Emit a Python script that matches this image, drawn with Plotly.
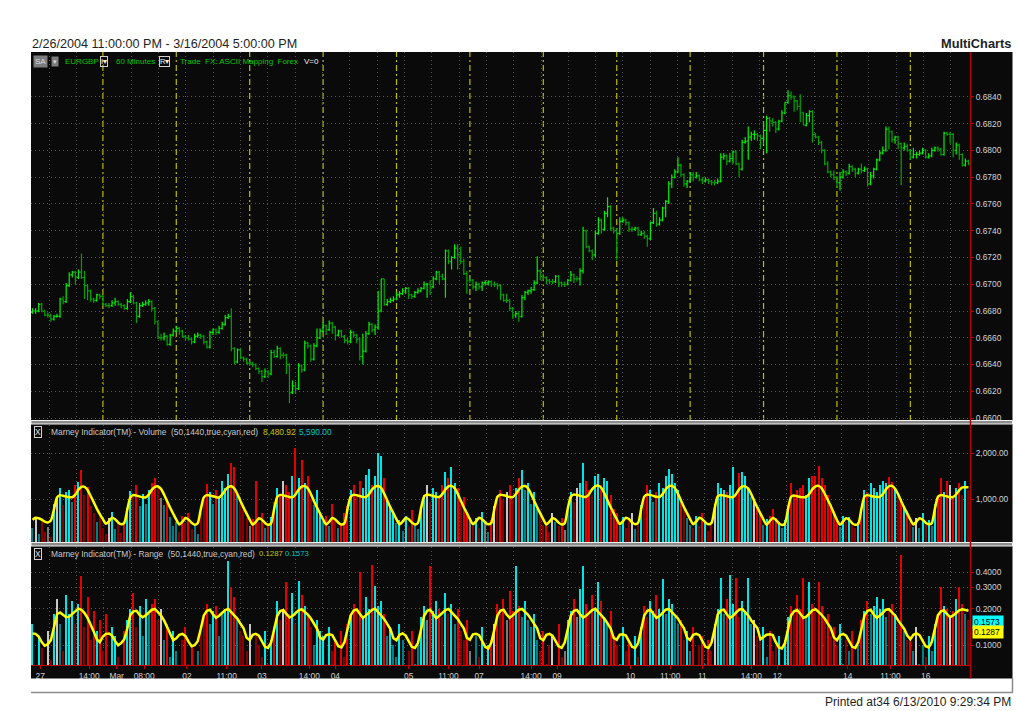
import plotly.graph_objects as go

# ---------------------------------------------------------------- data
BASE_PRICE = 0.6600          # price = BASE_PRICE + pips * PIP
PIP = 0.0001

OPEN_PIPS = [
    79, 80, 80, 85, 80, 77, 77, 74, 76, 76, 89, 87, 99, 107, 109, 105, 109, 105, 99, 95,
    89, 88, 92, 91, 85, 84, 84, 86, 87, 85, 84, 82, 87, 91, 86, 76, 84, 85, 86, 87,
    82, 72, 60, 60, 61, 55, 62, 65, 67, 65, 61, 60, 59, 57, 61, 62, 61, 57, 53, 64,
    66, 64, 67, 70, 75, 76, 52, 42, 51, 45, 44, 41, 41, 40, 37, 35, 31, 35, 33, 49,
    46, 52, 47, 47, 40, 19, 24, 22, 39, 36, 56, 54, 44, 54, 60, 65, 69, 66, 71, 68,
    62, 65, 61, 58, 57, 64, 62, 59, 46, 50, 63, 70, 66, 68, 80, 104, 85, 87, 88, 89,
    92, 93, 95, 97, 92, 91, 94, 95, 97, 100, 100, 98, 104, 109, 106, 104, 125, 117, 120, 127,
    122, 117, 108, 103, 103, 98, 100, 98, 101, 101, 102, 100, 100, 99, 92, 88, 88, 82, 77, 78,
    76, 90, 94, 95, 96, 101, 110, 106, 105, 103, 102, 102, 106, 101, 100, 100, 103, 107, 104, 104,
    110, 140, 128, 125, 122, 138, 148, 141, 153, 158, 142, 140, 138, 147, 148, 146, 141, 141, 142, 137,
    138, 136, 134, 146, 153, 145, 148, 157, 162, 175, 180, 184, 189, 182, 175, 177, 182, 180, 181, 178,
    177, 178, 177, 176, 176, 177, 195, 196, 192, 194, 199, 190, 186, 206, 207, 210, 212, 212, 211, 209,
    215, 224, 222, 221, 216, 222, 228, 236, 241, 240, 237, 233, 228, 219, 226, 229, 212, 210, 206, 200,
    190, 184, 182, 180, 176, 180, 184, 183, 188, 186, 183, 186, 185, 186, 175, 181, 186, 193, 198, 200,
    216, 214, 208, 210, 205, 202, 203, 200, 195, 197, 197, 198, 200, 195, 196, 200, 202, 201, 197, 213,
    212, 212, 200, 204, 197, 189, 192,
]
HIGH_PIPS = [
    82, 82, 86, 86, 81, 79, 78, 77, 78, 90, 91, 101, 109, 110, 110, 111, 123, 110, 100, 96,
    90, 93, 93, 92, 86, 86, 88, 90, 88, 86, 85, 89, 94, 92, 87, 86, 87, 88, 89, 88,
    83, 73, 63, 64, 62, 63, 67, 69, 68, 66, 62, 62, 60, 63, 64, 63, 62, 58, 65, 67,
    67, 69, 72, 77, 78, 82, 53, 52, 52, 46, 45, 43, 42, 41, 38, 36, 37, 36, 51, 51,
    54, 53, 49, 48, 41, 28, 27, 41, 40, 58, 57, 55, 56, 67, 67, 72, 70, 73, 72, 69,
    66, 66, 62, 60, 66, 65, 63, 60, 63, 65, 72, 71, 70, 95, 104, 104, 89, 90, 91, 94,
    95, 97, 98, 98, 93, 95, 97, 98, 102, 101, 103, 106, 110, 110, 108, 126, 126, 121, 130, 130,
    128, 119, 110, 105, 104, 102, 101, 102, 103, 103, 103, 102, 101, 100, 93, 93, 89, 83, 80, 80,
    92, 95, 96, 98, 103, 121, 111, 108, 106, 104, 104, 107, 107, 102, 102, 104, 110, 108, 106, 112,
    143, 141, 129, 126, 140, 150, 149, 155, 165, 159, 143, 142, 150, 150, 149, 147, 143, 143, 143, 140,
    140, 137, 147, 157, 155, 150, 158, 163, 177, 182, 186, 195, 190, 183, 178, 184, 184, 184, 182, 180,
    180, 179, 178, 178, 179, 198, 198, 197, 198, 200, 200, 191, 208, 210, 218, 214, 215, 213, 212, 222,
    226, 225, 224, 222, 223, 230, 236, 245, 244, 241, 238, 242, 229, 228, 230, 230, 213, 211, 207, 201,
    192, 185, 185, 181, 184, 186, 185, 190, 189, 187, 187, 190, 188, 187, 184, 187, 194, 200, 203, 218,
    218, 215, 211, 211, 206, 206, 205, 201, 202, 199, 200, 202, 201, 198, 202, 203, 203, 202, 214, 214,
    214, 213, 206, 205, 198, 194, 193,
]
LOW_PIPS = [
    78, 78, 79, 79, 76, 75, 72, 73, 75, 75, 85, 86, 98, 105, 100, 104, 104, 89, 88, 87,
    86, 87, 89, 84, 83, 82, 83, 84, 84, 82, 81, 81, 86, 85, 71, 75, 83, 84, 84, 80,
    70, 59, 58, 58, 54, 54, 61, 64, 62, 60, 58, 58, 55, 56, 60, 59, 55, 52, 52, 62,
    62, 63, 66, 69, 74, 50, 40, 41, 44, 42, 40, 39, 38, 36, 33, 27, 30, 30, 32, 45,
    45, 44, 45, 33, 11, 18, 18, 21, 34, 35, 52, 42, 43, 53, 59, 64, 62, 65, 63, 58,
    61, 60, 56, 55, 56, 60, 56, 43, 40, 49, 62, 64, 62, 66, 79, 84, 84, 86, 87, 88,
    90, 92, 93, 89, 89, 90, 93, 94, 96, 90, 92, 97, 103, 100, 103, 90, 115, 111, 119, 111,
    115, 107, 93, 101, 96, 95, 96, 95, 99, 99, 98, 98, 96, 88, 87, 86, 80, 74, 75, 72,
    75, 88, 92, 93, 95, 100, 103, 103, 100, 100, 100, 101, 98, 98, 98, 99, 102, 101, 102, 99,
    108, 127, 124, 118, 120, 137, 138, 140, 150, 140, 138, 118, 137, 146, 144, 139, 139, 140, 136, 136,
    134, 128, 133, 145, 143, 144, 147, 150, 160, 172, 179, 183, 180, 173, 172, 176, 177, 179, 177, 175,
    176, 175, 174, 174, 175, 176, 193, 189, 191, 190, 189, 180, 185, 205, 193, 207, 208, 207, 201, 205,
    198, 214, 218, 213, 215, 221, 227, 235, 238, 229, 230, 221, 219, 218, 221, 206, 209, 204, 198, 189,
    183, 180, 178, 172, 170, 179, 181, 182, 184, 180, 182, 183, 184, 173, 174, 179, 185, 192, 197, 199,
    201, 206, 205, 201, 174, 200, 199, 193, 194, 194, 196, 197, 194, 194, 195, 199, 199, 196, 196, 211,
    205, 195, 197, 193, 188, 188, 189,
]
CLOSE_PIPS = [
    80, 80, 85, 80, 77, 77, 74, 76, 76, 89, 87, 99, 107, 109, 105, 109, 105, 99, 95, 89,
    88, 92, 91, 85, 84, 84, 86, 87, 85, 84, 82, 87, 91, 86, 76, 84, 85, 86, 87, 82,
    72, 60, 60, 61, 55, 62, 65, 67, 65, 61, 60, 59, 57, 61, 62, 61, 57, 53, 64, 66,
    64, 67, 70, 75, 76, 52, 42, 51, 45, 44, 41, 41, 40, 37, 35, 31, 35, 33, 49, 46,
    52, 47, 47, 40, 19, 24, 22, 39, 36, 56, 54, 44, 54, 60, 65, 69, 66, 71, 68, 62,
    65, 61, 58, 57, 64, 62, 59, 46, 50, 63, 70, 66, 68, 80, 104, 85, 87, 88, 89, 92,
    93, 95, 97, 92, 91, 94, 95, 97, 100, 100, 98, 104, 109, 106, 104, 125, 117, 120, 127, 122,
    117, 108, 103, 103, 98, 100, 98, 101, 101, 102, 100, 100, 99, 92, 88, 88, 82, 77, 78, 76,
    90, 94, 95, 96, 101, 110, 106, 105, 103, 102, 102, 106, 101, 100, 100, 103, 107, 104, 104, 110,
    140, 128, 125, 122, 138, 148, 141, 153, 158, 142, 140, 138, 147, 148, 146, 141, 141, 142, 137, 138,
    136, 134, 146, 153, 145, 148, 157, 162, 175, 180, 184, 189, 182, 175, 177, 182, 180, 181, 178, 177,
    178, 177, 176, 176, 177, 195, 196, 192, 194, 199, 190, 186, 206, 207, 210, 212, 212, 211, 209, 215,
    224, 222, 221, 216, 222, 228, 236, 241, 240, 237, 233, 228, 219, 226, 229, 212, 210, 206, 200, 190,
    184, 182, 180, 176, 180, 184, 183, 188, 186, 183, 186, 185, 186, 175, 181, 186, 193, 198, 200, 216,
    214, 208, 210, 205, 202, 203, 200, 195, 197, 197, 198, 200, 195, 196, 200, 202, 201, 197, 213, 212,
    212, 200, 204, 197, 189, 192, 190,
]

VOLUME = [
    380, 620, 250, 540, 300, 410, 180,
    900, 1050, 1250, 880, 1150, 1200, 950, 1300, 1380, 1630, 1100, 1260, 850, 700, 520, 640, 380, 260, 600, 720, 350, 480, 270, 540,
    820, 1180, 1050, 1300, 850, 1120, 900, 1200, 1350, 1460, 1250, 1020, 880, 960, 610, 420, 520, 300, 650, 480, 700, 350, 420, 260,
    700, 980, 1320, 1150, 900, 1200, 1050, 1400, 1250, 1550, 1780, 1700, 1100, 900, 760, 600, 420, 580, 1390, 520, 700, 380, 450, 620,
    950, 1250, 1100, 1400, 1300, 1150, 1500, 2100, 1450, 1850, 1350, 1500, 1000, 880, 1200, 720, 500, 650, 420, 900, 560, 380, 460, 700,
    850, 1200, 1300, 1050, 1400, 1250, 1530, 1650, 1300, 1500, 2000, 1930, 1450, 1000, 850, 700, 480, 560, 320, 650, 400, 760, 450, 350,
    800, 1100, 1300, 950, 1250, 1150, 1050, 1300, 1600, 1450, 1700, 1350, 1250, 900, 1050, 700, 540, 420, 600, 380, 720, 480, 300, 550,
    850, 1050, 1200, 980, 1150, 1300, 1000, 1250, 1450, 1630, 1200, 1350, 900, 1150, 800, 650, 450, 520, 300, 700, 520, 420, 600, 330,
    750, 1150, 950, 1250, 1350, 1780, 1400, 1200, 1100, 1500, 1550, 1300, 1450, 1400, 1100, 800, 700, 420, 620, 380, 560, 700, 350, 480,
    880, 1000, 1300, 1200, 950, 1150, 1350, 1250, 1500, 1650, 1550, 1350, 1200, 1000, 800, 600, 450, 380, 650, 420, 700, 500, 320, 450,
    900, 1350, 1250, 1200, 1150, 1300, 1700, 1100, 1560, 1600, 1500, 1250, 1050, 1000, 850, 700, 450, 580, 650, 800, 600, 520, 380, 550,
    850, 1350, 1100, 1200, 1250, 1300, 1100, 1450, 1500, 1500, 1720, 1450, 1300, 1100, 900, 750, 550, 400, 650, 500, 620, 450, 380, 520,
    800, 1200, 1150, 1350, 1250, 1150, 1300, 1400, 1350, 1480, 1380, 1250, 1100, 1000, 850, 750, 500, 400, 600, 380, 700, 450, 550, 420,
    900, 1100, 1450, 1150, 1400, 1300, 1050, 1250, 1350, 1100, 1400, 1200,
]
VOLUME_AVG = [
    560, 600, 590, 560, 520, 500, 540,
    780, 1040, 1090, 1075, 1060, 1045, 1045, 1100, 1205, 1270, 1270, 1200, 1070, 940, 800, 680, 570, 470, 525, 600, 570, 500, 460, 490,
    785, 1045, 1092, 1080, 1062, 1044, 1042, 1102, 1203, 1268, 1278, 1225, 1105, 958, 818, 688, 562, 455, 512, 594, 563, 493, 452, 483,
    782, 1042, 1090, 1082, 1066, 1047, 1040, 1100, 1200, 1265, 1280, 1230, 1110, 960, 820, 690, 560, 450, 510, 590, 560, 490, 450, 480,
    790, 1050, 1095, 1085, 1068, 1050, 1045, 1105, 1208, 1272, 1284, 1236, 1115, 965, 824, 694, 565, 455, 515, 594, 565, 495, 455, 485,
    795, 1055, 1100, 1088, 1070, 1052, 1048, 1110, 1212, 1276, 1288, 1240, 1120, 970, 828, 698, 568, 458, 518, 598, 568, 498, 458, 488,
    798, 1058, 1102, 1090, 1072, 1053, 1050, 1112, 1215, 1280, 1290, 1242, 1122, 972, 830, 700, 570, 460, 520, 600, 570, 500, 460, 490,
    795, 1055, 1100, 1088, 1070, 1050, 1047, 1108, 1210, 1276, 1286, 1238, 1118, 968, 826, 696, 566, 456, 516, 596, 566, 496, 456, 486,
    800, 1060, 1105, 1092, 1075, 1055, 1052, 1115, 1220, 1285, 1295, 1245, 1125, 975, 832, 702, 572, 462, 522, 602, 572, 502, 462, 492,
    798, 1058, 1103, 1090, 1073, 1054, 1050, 1112, 1216, 1282, 1292, 1243, 1123, 973, 830, 700, 570, 460, 520, 600, 570, 500, 460, 490,
    800, 1060, 1095, 1080, 1068, 1050, 1045, 1110, 1215, 1272, 1280, 1232, 1110, 960, 820, 690, 560, 450, 525, 595, 560, 485, 445, 475,
    790, 1055, 1080, 1065, 1050, 1042, 1050, 1120, 1220, 1280, 1290, 1240, 1120, 990, 850, 700, 550, 448, 522, 592, 558, 480, 448, 472,
    795, 1060, 1090, 1075, 1060, 1050, 1052, 1115, 1215, 1282, 1290, 1230, 1110, 960, 820, 690, 560, 455, 520, 590, 560, 495, 462, 480,
    790, 1050, 1090, 1080, 1062, 1048, 1050, 1110, 1200, 1258, 1262, 1262,
]
RANGE_MILLI = [   # bar range, thousandths
    150, 60, 120, 95, 40, 130, 75,
    180, 240, 150, 90, 260, 180, 230, 150, 220, 370, 140, 250, 110, 190, 130, 160, 90, 180, 60, 140, 120, 80, 50, 130,
    160, 200, 270, 140, 210, 120, 240, 180, 220, 240, 160, 200, 110, 150, 80, 130, 90, 50, 110, 140, 70, 100, 60, 90,
    130, 170, 220, 150, 190, 210, 120, 180, 200, 490, 300, 250, 160, 130, 120, 90, 150, 60, 120, 100, 80, 130, 70, 110,
    140, 230, 160, 200, 330, 180, 270, 150, 340, 260, 210, 180, 140, 100, 160, 130, 120, 70, 140, 90, 110, 60, 130, 80,
    150, 180, 220, 190, 400, 170, 250, 200, 460, 310, 210, 230, 180, 120, 140, 100, 80, 150, 110, 60, 90, 130, 70, 100,
    170, 210, 160, 450, 190, 230, 200, 170, 270, 180, 220, 150, 200, 130, 110, 160, 90, 70, 120, 80, 140, 60, 100, 110,
    150, 220, 180, 240, 160, 280, 190, 450, 210, 170, 230, 160, 140, 180, 110, 90, 130, 70, 100, 120, 60, 150, 80, 90,
    160, 190, 240, 170, 290, 450, 220, 180, 260, 200, 330, 230, 170, 150, 190, 120, 100, 70, 140, 90, 110, 60, 120, 80,
    140, 210, 170, 230, 190, 260, 200, 350, 180, 240, 220, 170, 150, 160, 110, 130, 90, 140, 60, 100, 120, 70, 110, 90,
    150, 200, 360, 180, 240, 380, 220, 360, 170, 230, 190, 360, 150, 160, 120, 110, 140, 80, 130, 90, 100, 120, 60, 110,
    170, 210, 180, 260, 200, 360, 170, 330, 220, 190, 330, 210, 160, 180, 120, 140, 100, 150, 70, 110, 90, 130, 60, 100,
    160, 190, 230, 180, 210, 250, 200, 240, 170, 190, 220, 180, 150, 550, 130, 110, 120, 90, 140, 70, 100, 80, 120, 90,
    150, 180, 300, 210, 200, 170, 190, 240, 300, 220, 180, 160,
]
RANGE_AVG_MILLI = [
    125, 124, 118, 106, 99, 102, 110,
    140, 180, 186, 178, 170, 172, 180, 190, 200, 196, 184, 168, 150, 130, 112, 106, 118, 124, 125, 120, 108, 100, 104, 112,
    138, 178, 190, 192, 178, 170, 176, 186, 196, 199, 188, 176, 160, 142, 125, 110, 114, 122, 124, 119, 107, 98, 100, 108,
    136, 176, 192, 196, 180, 168, 175, 185, 195, 199, 188, 178, 165, 150, 138, 115, 110, 122, 124, 120, 108, 97, 95, 105,
    135, 175, 191, 195, 181, 169, 174, 184, 194, 198, 189, 179, 166, 151, 137, 116, 111, 121, 123, 121, 109, 98, 96, 106,
    136, 176, 193, 197, 182, 168, 176, 186, 196, 200, 187, 177, 164, 149, 136, 114, 110, 122, 125, 120, 107, 97, 95, 104,
    134, 174, 192, 196, 180, 167, 175, 185, 195, 199, 188, 178, 165, 150, 138, 115, 111, 123, 124, 121, 108, 97, 94, 105,
    135, 176, 193, 196, 179, 168, 176, 186, 196, 199, 189, 178, 164, 150, 137, 114, 110, 122, 124, 120, 108, 98, 95, 105,
    136, 175, 192, 195, 180, 169, 175, 185, 195, 200, 188, 177, 165, 151, 138, 115, 111, 122, 123, 120, 107, 97, 95, 104,
    135, 176, 192, 196, 181, 168, 174, 185, 196, 199, 188, 178, 166, 150, 138, 115, 110, 122, 124, 121, 108, 97, 95, 105,
    136, 178, 194, 196, 180, 167, 175, 186, 196, 199, 187, 176, 160, 148, 138, 112, 116, 122, 123, 121, 106, 96, 94, 104,
    135, 176, 190, 195, 182, 168, 172, 184, 194, 198, 189, 178, 165, 152, 138, 116, 110, 121, 124, 120, 108, 97, 95, 106,
    136, 176, 192, 196, 180, 168, 175, 185, 196, 198, 188, 176, 160, 148, 136, 120, 112, 122, 125, 121, 108, 98, 96, 106,
    136, 176, 190, 194, 180, 170, 176, 186, 194, 198, 196, 192,
]

DAY_BREAKS = [23, 47, 71, 95, 119, 143, 167, 191, 215, 239, 263, 287]
X_TICK_POS = [2.5, 18.5, 27.5, 36.5, 50.5, 63.5, 75, 90.5, 99, 123, 136, 146,
              163, 171.5, 195.5, 208.5, 219, 235, 243.5, 266.5, 280.5, 292]
X_TICK_TEXT = ["27", "14:00", "Mar", "08:00", "02", "11:00", "03", "14:00", "04", "05", "11:00", "07",
               "14:00", "09", "10", "11:00", "11", "14:00", "12", "14", "11:00", "16"]
PRICE_TICKS = [0.6600, 0.6620, 0.6640, 0.6660, 0.6680, 0.6700, 0.6720,
               0.6740, 0.6760, 0.6780, 0.6800, 0.6820, 0.6840]
VOLUME_TICKS = [1000, 2000]
RANGE_TICKS = [0.1, 0.2, 0.3, 0.4]

for name, arr in [("OPEN", OPEN_PIPS), ("HIGH", HIGH_PIPS), ("LOW", LOW_PIPS),
                  ("VOLUME", VOLUME), ("VOLUME_AVG", VOLUME_AVG),
                  ("RANGE", RANGE_MILLI), ("RANGE_AVG", RANGE_AVG_MILLI)]:
    assert len(arr) == len(CLOSE_PIPS), (name, len(arr), len(CLOSE_PIPS))

# ---------------------------------------------------------------- derived
n = len(CLOSE_PIPS)
idx = list(range(n))
opens = [BASE_PRICE + v * PIP for v in OPEN_PIPS]
highs = [BASE_PRICE + v * PIP for v in HIGH_PIPS]
lows = [BASE_PRICE + v * PIP for v in LOW_PIPS]
closes = [BASE_PRICE + v * PIP for v in CLOSE_PIPS]
ranges = [v / 1000 for v in RANGE_MILLI]
range_avg = [v / 1000 for v in RANGE_AVG_MILLI]


def bar_colors(values, avgs):
    cols = []
    for o, c, v, a in zip(OPEN_PIPS, CLOSE_PIPS, values, avgs):
        bright = v >= a
        if c > o:
            cols.append('#00e6e6' if bright else '#007f86')
        elif c < o:
            cols.append('#e60000' if bright else '#860000')
        else:
            cols.append('#c8c8c8' if bright else '#7a7a7a')
    return cols


# ---------------------------------------------------------------- geometry
W, H = 1016, 711
ML, MR, MT, MB = 31, 46, 52, 46
PW, PH = W - ML - MR, H - MT - MB


def fx(px):
    return (px - ML) / PW


def fy(py):
    return (H - MB - py) / PH


BLACK = '#0a0a0a'
GRID = '#565656'
RED = '#c00000'
LABEL = '#d2d2d2'
FONT = 'Liberation Sans'

fig = go.Figure()
fig.add_trace(go.Ohlc(
    x=idx, open=opens, high=highs, low=lows, close=closes,
    increasing=dict(line=dict(color='#00f000', width=1.2)),
    decreasing=dict(line=dict(color='#00a400', width=1.2)),
    tickwidth=0.45, xaxis='x', yaxis='y', hoverinfo='skip', showlegend=False))

fig.add_trace(go.Bar(
    x=idx, y=VOLUME, width=0.38,
    marker=dict(color=bar_colors(VOLUME, VOLUME_AVG), line=dict(width=0)),
    xaxis='x2', yaxis='y2', hoverinfo='skip', showlegend=False))
fig.add_trace(go.Scatter(
    x=idx, y=VOLUME_AVG, mode='lines',
    line=dict(color='#ffff00', width=2.5, shape='spline', smoothing=0.6),
    xaxis='x2', yaxis='y2', hoverinfo='skip', showlegend=False))

fig.add_trace(go.Bar(
    x=idx, y=ranges, width=0.38,
    marker=dict(color=bar_colors(RANGE_MILLI, RANGE_AVG_MILLI), line=dict(width=0)),
    xaxis='x3', yaxis='y3', hoverinfo='skip', showlegend=False))
fig.add_trace(go.Scatter(
    x=idx, y=range_avg, mode='lines',
    line=dict(color='#ffff00', width=2.5),
    xaxis='x3', yaxis='y3', hoverinfo='skip', showlegend=False))

minor_x = dict(tickmode='linear', tick0=5.5, dtick=8.93, showgrid=True,
               gridcolor=GRID, griddash='1px,3px', gridwidth=1, ticks='')
xcommon = dict(range=[-0.5, n - 0.5], showgrid=False, zeroline=False,
               minor=minor_x, fixedrange=True, automargin=False)
ycommon = dict(side='right', showgrid=True, gridcolor=GRID, griddash='1px,3px',
               gridwidth=1, zeroline=False, showline=False, ticks='outside',
               ticklen=3, tickcolor=RED, tickfont=dict(family=FONT, size=8.4, color=LABEL),
               fixedrange=True, automargin=False)

fig.update_layout(
    width=W, height=H, autosize=False,
    margin=dict(l=ML, r=MR, t=MT, b=MB, pad=0, autoexpand=False),
    paper_bgcolor='white', plot_bgcolor='rgba(0,0,0,0)',
    showlegend=False, hovermode=False, bargap=0,
    font=dict(family=FONT, size=8.4, color=LABEL),
    xaxis=dict(**xcommon, domain=[0, 1], anchor='y', showticklabels=False,
               ticks='', rangeslider=dict(visible=False)),
    xaxis2=dict(**xcommon, domain=[0, 1], anchor='y2', showticklabels=False,
                ticks='', matches='x'),
    xaxis3=dict(**xcommon, domain=[0, 1], anchor='y3', matches='x',
                tickmode='array', tickvals=X_TICK_POS, ticktext=X_TICK_TEXT,
                ticks='outside', ticklen=3, tickcolor=RED,
                showline=True, linecolor=RED, linewidth=1,
                tickfont=dict(family=FONT, size=8.4, color=LABEL)),
    yaxis=dict(**ycommon, domain=[fy(421), 1], anchor='x',
               range=[0.65978, 0.68736], tickmode='array', tickvals=PRICE_TICKS,
               tickformat='.4f'),
    yaxis2=dict(**ycommon, domain=[fy(543), fy(425)], anchor='x2',
                range=[56, 2605], tickmode='array', tickvals=VOLUME_TICKS,
                tickformat=',.2f'),
    yaxis3=dict(**ycommon, domain=[0, fy(547)], anchor='x3', type='log',
                range=[-1.163, -0.191], tickmode='array', tickvals=RANGE_TICKS,
                tickformat='.4f'),
)

shapes = [
    # black chart background incl. the price-scale strip
    dict(type='rect', xref='paper', yref='paper', x0=fx(31), x1=fx(1012.5),
         y0=fy(678.5), y1=1, fillcolor=BLACK, line=dict(width=0), layer='below'),
]
for d in DAY_BREAKS:
    shapes.append(dict(type='line', xref='x', yref='y domain', x0=d, x1=d, y0=0, y1=1,
                       line=dict(color='#bcbc00', width=1.2, dash='6px,3px,2px,3px'),
                       layer='below'))
for top, bot in [(420.5, 424), (542.5, 546)]:
    shapes.append(dict(type='rect', xref='paper', yref='paper', x0=fx(31), x1=fx(1012.5),
                       y0=fy(bot), y1=fy(top), fillcolor='#8c8c8c',
                       line=dict(color='#f2f2f2', width=1), layer='above'))
shapes += [
    dict(type='line', xref='paper', yref='paper', x0=fx(970.5), x1=fx(970.5),
         y0=fy(678.5), y1=1, line=dict(color='#b00000', width=1.5), layer='above'),
    dict(type='line', xref='paper', yref='paper', x0=fx(31), x1=fx(1013),
         y0=fy(692.5), y1=fy(692.5), line=dict(color='#8a8a8a', width=1.5)),
    dict(type='line', xref='paper', yref='paper', x0=fx(1012.5), x1=fx(1012.5),
         y0=fy(692.5), y1=fy(678), line=dict(color='#8a8a8a', width=1.5)),
]
fig.update_layout(shapes=shapes)


def txt(text, px, py, color, size=8.4, anchor='left', bold=False, **kw):
    t = f'<b>{text}</b>' if bold else text
    return dict(text=t, x=fx(px), y=fy(py), xref='paper', yref='paper',
                xanchor=anchor, yanchor='middle', showarrow=False,
                font=dict(family=FONT, size=size, color=color), **kw)


GREEN = '#00c800'
anns = [
    txt('2/26/2004 11:00:00 PM - 3/16/2004 5:00:00 PM', 30, 43.5, '#1e1e1e', size=12.6),
    txt('MultiCharts', 1013, 43.5, '#1e1e1e', size=12.8, anchor='right', bold=True),
    txt('Printed at34 6/13/2010 9:29:34 PM', 1013, 702, '#1e1e1e', size=12, anchor='right'),
    # price header
    txt('SA', 33, 61, '#dcdcdc', size=8, bgcolor='#7c7c7c', borderpad=1),
    txt('▾', 50.5, 61, '#dcdcdc', size=7, bgcolor='#7c7c7c', borderpad=1),
    txt('EURGBP', 62.5, 61, GREEN, size=8),
    txt('I▾', 99.5, 61, '#f0f0f0', size=7.5, bordercolor='#d0d0d0', borderwidth=1, borderpad=0),
    txt('60 Minutes', 114, 61, GREEN, size=8),
    txt('R▾', 159, 61, '#f0f0f0', size=7.5, bordercolor='#d0d0d0', borderwidth=1, borderpad=0),
    txt('Trade  FX: ASCII Mapping  Forex', 178, 61, GREEN, size=8),
    txt('V=0', 302, 61, '#f0f0f0', size=8),
    # volume header
    txt('X', 33.5, 431.5, '#e0e0e0', bordercolor='#d0d0d0', borderwidth=1, borderpad=0),
    txt('Marney Indicator(TM) - Volume  (50,1440,true,cyan,red)', 49, 431.5, '#c8c8c8'),
    txt('8,480.92', 260.5, 431.5, '#c4c400'),
    txt('5,590.00', 297, 431.5, '#00c4c4'),
    # range header
    txt('X', 33.5, 553.5, '#e0e0e0', bordercolor='#d0d0d0', borderwidth=1, borderpad=0),
    txt('Marney Indicator(TM) - Range  (50,1440,true,cyan,red)', 49, 553.5, '#c8c8c8'),
    txt('0.1287', 256.5, 553.5, '#c4c400', size=7.8),
    txt('0.1573', 282.5, 553.5, '#00c4c4', size=7.8),
    # last-value flags on the range scale
    txt('0.1573 ', 972, 621.5, '#000000', bgcolor='#00ffff', borderpad=1),
    txt('0.1287 ', 972, 632, '#000000', bgcolor='#ffff00', borderpad=1),
]
fig.update_layout(annotations=anns)

fig.write_html("out.html", config={'displayModeBar': False},
               post_script="document.body.style.margin='0px';")
